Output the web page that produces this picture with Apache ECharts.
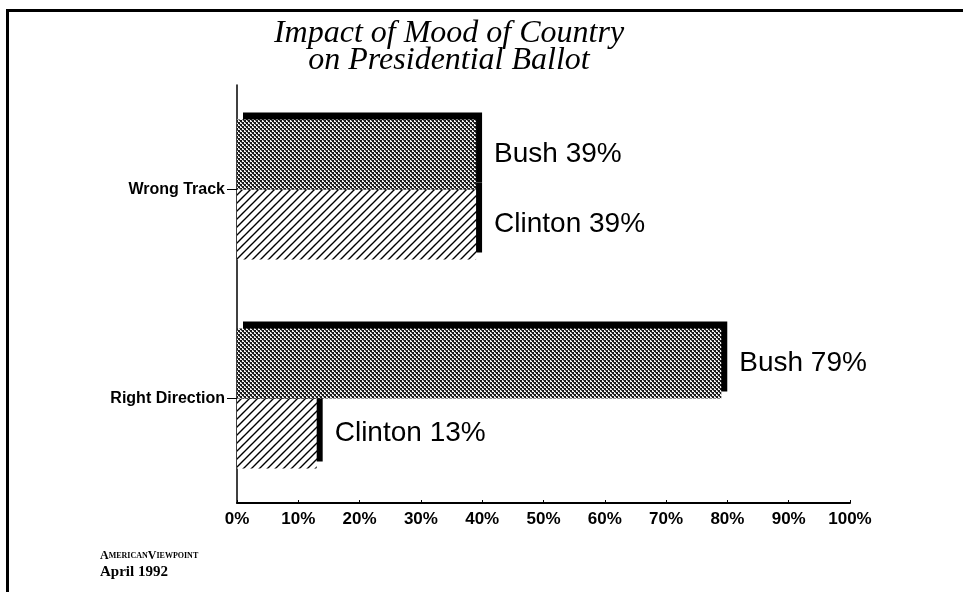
<!DOCTYPE html>
<html>
<head>
<meta charset="utf-8">
<script src="https://cdn.jsdelivr.net/npm/echarts@6/dist/echarts.min.js"></script>
<style>
  html, body { margin: 0; padding: 0; background: #fff; }
  #chart { width: 963px; height: 592px; }
</style>
</head>
<body>
<div id="chart"></div>
<script>
// Poll results by mood of the country
const categories = ['Right Direction', 'Wrong Track'];
const bushValues = [79, 39];
const clintonValues = [13, 39];
const xTicks = [0, 10, 20, 30, 40, 50, 60, 70, 80, 90, 100];

// Fine dotted screen for the Bush bars
function makeStipple() {
  const c = document.createElement('canvas');
  c.width = 4; c.height = 4;
  const g = c.getContext('2d');
  g.fillStyle = '#f2f2f2';
  g.fillRect(0, 0, 4, 4);
  g.fillStyle = '#1a1a1a';
  g.fillRect(0, 0, 2, 2);
  g.fillRect(2, 2, 2, 2);
  g.fillStyle = '#555';
  g.fillRect(1, 2, 1, 1);
  g.fillRect(3, 0, 1, 1);
  return c;
}

// Diagonal hatching for the Clinton bars
function makeHatch() {
  const s = 8;
  const c = document.createElement('canvas');
  c.width = s; c.height = s;
  const g = c.getContext('2d');
  g.fillStyle = '#fff';
  g.fillRect(0, 0, s, s);
  g.strokeStyle = '#000';
  g.lineWidth = 1.4;
  g.beginPath();
  g.moveTo(-1, s + 1); g.lineTo(s + 1, -1);
  g.moveTo(-1, 1); g.lineTo(1, -1);
  g.moveTo(s - 1, s + 1); g.lineTo(s + 1, s - 1);
  g.stroke();
  return c;
}

// solid black offset gives the bars their raised, boxed look
const depthStyle = {
  borderWidth: 0,
  shadowColor: '#000',
  shadowBlur: 0,
  shadowOffsetX: 6,
  shadowOffsetY: -7
};

const labelStyle = {
  show: true,
  position: 'right',
  distance: 18,
  fontFamily: 'Liberation Sans, Arial, sans-serif',
  fontSize: 28,
  color: '#000',
  formatter: p => p.seriesName + ' ' + p.value + '%'
};

const chart = echarts.init(document.getElementById('chart'), null, { renderer: 'canvas' });

chart.setOption({
  backgroundColor: '#fff',
  animation: false,
  title: {
    text: 'Impact of Mood of Country\non Presidential Ballot',
    left: 444,
    textAlign: 'center',
    top: 15,
    textStyle: {
      fontFamily: 'Liberation Serif, Times New Roman, serif',
      fontStyle: 'italic',
      fontWeight: 'normal',
      fontSize: 32,
      lineHeight: 27,
      color: '#000'
    }
  },
  grid: { left: 237, right: 113, top: 85, bottom: 89 },
  xAxis: {
    type: 'value',
    min: 0,
    max: 100,
    interval: 10,
    axisLine: { show: true, lineStyle: { color: '#000', width: 2 } },
    axisTick: { show: true, inside: true, length: 3, lineStyle: { color: '#000' } },
    splitLine: { show: false },
    axisLabel: {
      margin: 8,
      fontFamily: 'Liberation Sans, Arial, sans-serif',
      fontWeight: 'bold',
      fontSize: 17,
      color: '#000',
      formatter: v => (xTicks.indexOf(v) >= 0 ? v + '%' : '')
    }
  },
  yAxis: {
    type: 'category',
    data: categories,
    axisLine: { show: true, lineStyle: { color: '#000', width: 1.5 } },
    axisTick: { show: true, alignWithLabel: true, length: 10, lineStyle: { color: '#000' } },
    axisLabel: {
      margin: 12,
      fontFamily: 'Liberation Sans, Arial, sans-serif',
      fontWeight: 'bold',
      fontSize: 16,
      color: '#000'
    }
  },
  series: [
    {
      name: 'Bush',
      type: 'bar',
      z: 3,
      data: bushValues,
      barGap: '0%',
      barCategoryGap: '33%',
      itemStyle: Object.assign({ color: { image: makeStipple(), repeat: 'repeat' } }, depthStyle),
      label: labelStyle
    },
    {
      name: 'Clinton',
      type: 'bar',
      z: 2,
      data: clintonValues,
      barGap: '0%',
      barCategoryGap: '33%',
      itemStyle: Object.assign({ color: { image: makeHatch(), repeat: 'repeat' } }, depthStyle),
      label: labelStyle
    }
  ],
  graphic: [
    // page frame: top rule and left rule
    { type: 'rect', shape: { x: 6, y: 9, width: 963, height: 3 }, style: { fill: '#000' }, silent: true },
    { type: 'rect', shape: { x: 6, y: 9, width: 3, height: 600 }, style: { fill: '#000' }, silent: true },
    {
      type: 'text',
      left: 100,
      top: 550,
      style: {
        text: '{b|A}{s|MERICAN}{b|V}{s|IEWPOINT}',
        rich: {
          b: { fontFamily: 'Liberation Serif, serif', fontWeight: 'bold', fontSize: 12, fill: '#000' },
          s: { fontFamily: 'Liberation Serif, serif', fontWeight: 'bold', fontSize: 8, fill: '#000' }
        }
      }
    },
    {
      type: 'text',
      left: 100,
      top: 565,
      style: {
        text: 'April 1992',
        fontFamily: 'Liberation Serif, serif',
        fontWeight: 'bold',
        fontSize: 15,
        fill: '#000'
      }
    }
  ]
});
</script>
</body>
</html>
